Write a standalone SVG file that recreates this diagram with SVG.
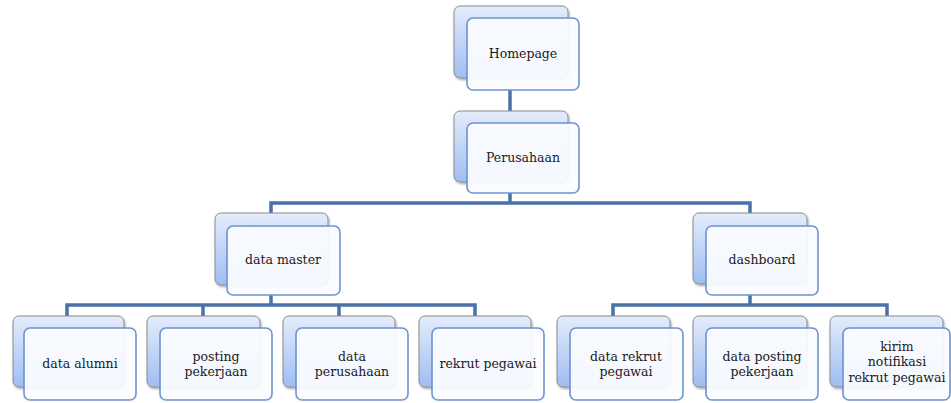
<svg xmlns="http://www.w3.org/2000/svg" width="951" height="403" viewBox="0 0 951 403">
<defs>
<linearGradient id="bg" x1="0" y1="0" x2="0" y2="1">
<stop offset="0" stop-color="#e4ecfb"/>
<stop offset="1" stop-color="#9fbdf3"/>
</linearGradient>
<filter id="sh" x="-10%" y="-10%" width="130%" height="130%">
<feDropShadow dx="1" dy="1.5" stdDeviation="1.2" flood-color="#000" flood-opacity="0.35"/>
</filter>
</defs>
<style>
.back{fill:url(#bg);stroke:#8c8c8c;stroke-width:1;filter:url(#sh)}
.front{fill:#fbfcff;fill-opacity:0.93;stroke:#6b93cf;stroke-width:1.6}
.conn{fill:none;stroke:#4a72a8;stroke-width:3.5}
text{font-family:"DejaVu Serif","Liberation Serif",serif;font-size:12.5px;fill:#1a1a1a;text-anchor:middle}
</style>
<rect width="951" height="403" fill="#ffffff"/>
<g id="connectors">
<path class="conn" d="M510 90V123"/>
<path class="conn" d="M510 193V203M271 213V203H750V213"/>
<path class="conn" d="M271 295V305M67 316V305H475V316M203 305V316M339 305V316"/>
<path class="conn" d="M750 295V305M613 316V305H887V316"/>
</g>
<g id="homepage">
<rect class="back" x="454" y="6" width="114" height="72" rx="6"/>
<rect class="front" x="467" y="18" width="112" height="72" rx="6"/>
<text x="523" y="58">Homepage</text>
</g>
<g id="perusahaan">
<rect class="back" x="454" y="111" width="114" height="71" rx="6"/>
<rect class="front" x="467" y="123" width="112" height="70" rx="6"/>
<text x="523" y="162">Perusahaan</text>
</g>
<g id="data-master">
<rect class="back" x="215" y="213" width="113" height="72" rx="6"/>
<rect class="front" x="227" y="226" width="113" height="69" rx="6"/>
<text x="283" y="264">data master</text>
</g>
<g id="dashboard">
<rect class="back" x="693" y="213" width="114" height="71" rx="6"/>
<rect class="front" x="706" y="226" width="112" height="69" rx="6"/>
<text x="762" y="264">dashboard</text>
</g>
<g id="data-alumni">
<rect class="back" x="13" y="316" width="111" height="71" rx="6"/>
<rect class="front" x="24" y="328" width="112" height="72" rx="6"/>
<text x="80" y="368">data alumni</text>
</g>
<g id="posting-pekerjaan">
<rect class="back" x="147" y="316" width="113" height="71" rx="6"/>
<rect class="front" x="160" y="328" width="112" height="72" rx="6"/>
<text x="216" y="361">posting</text>
<text x="216" y="376">pekerjaan</text>
</g>
<g id="data-perusahaan">
<rect class="back" x="283" y="316" width="112" height="71" rx="6"/>
<rect class="front" x="296" y="328" width="112" height="72" rx="6"/>
<text x="352" y="361">data</text>
<text x="352" y="376">perusahaan</text>
</g>
<g id="rekrut-pegawai">
<rect class="back" x="419" y="316" width="112" height="71" rx="6"/>
<rect class="front" x="432" y="328" width="112" height="72" rx="6"/>
<text x="488" y="368">rekrut pegawai</text>
</g>
<g id="data-rekrut-pegawai">
<rect class="back" x="557" y="316" width="113" height="71" rx="6"/>
<rect class="front" x="570" y="328" width="113" height="72" rx="6"/>
<text x="626" y="361">data rekrut</text>
<text x="626" y="376">pegawai</text>
</g>
<g id="data-posting-pekerjaan">
<rect class="back" x="693" y="316" width="114" height="71" rx="6"/>
<rect class="front" x="706" y="328" width="112" height="72" rx="6"/>
<text x="762" y="361">data posting</text>
<text x="762" y="376">pekerjaan</text>
</g>
<g id="kirim-notifikasi">
<rect class="back" x="830" y="316" width="113" height="71" rx="6"/>
<rect class="front" x="843" y="328" width="107" height="72" rx="6"/>
<text x="897" y="351">kirim</text>
<text x="897" y="366">notifikasi</text>
<text x="897" y="382">rekrut pegawai</text>
</g>
</svg>
